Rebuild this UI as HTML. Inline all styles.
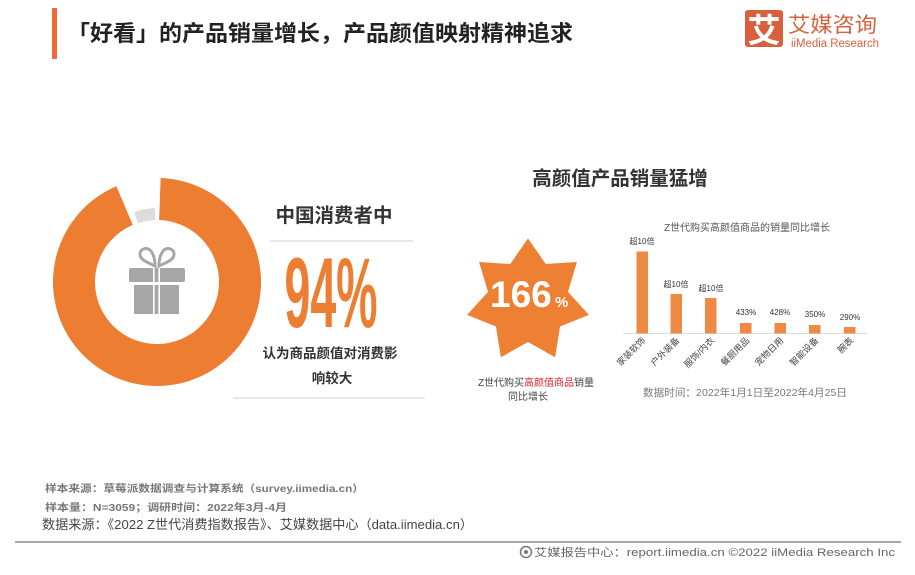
<!DOCTYPE html>
<html><head><meta charset="utf-8"><style>
html,body{margin:0;padding:0;background:#fff;}
svg{display:block;}
text{font-family:"Liberation Sans","Noto Sans CJK SC",sans-serif;}
</style></head><body>
<svg width="915" height="575" viewBox="0 0 915 575" xmlns="http://www.w3.org/2000/svg">
<rect width="915" height="575" fill="#fff"/>
<!-- header -->
<rect x="52" y="8" width="5" height="51" fill="#ef6a36"/>
<text x="67" y="41" font-size="22" font-weight="bold" fill="#222" textLength="506" lengthAdjust="spacingAndGlyphs">「好看」的产品销量增长，产品颜值映射精神追求</text>
<rect x="745" y="10" width="38" height="37" rx="3" fill="#d9603c"/>
<text x="764" y="42" font-size="33" font-weight="bold" fill="#fff" text-anchor="middle">艾</text>
<text x="788" y="32" font-size="21" fill="#d9603c" textLength="89" lengthAdjust="spacingAndGlyphs">艾媒咨询</text>
<text x="791" y="47" font-size="11.5" fill="#d9603c" textLength="88" lengthAdjust="spacingAndGlyphs">iiMedia Research</text>

<!-- donut -->
<path d="M160.63 178.06 A104 104 0 1 1 116.37 186.27 L132.78 224.93 A62 62 0 1 0 159.16 220.04 Z" fill="#ec7d31"/>
<path d="M134.2 212.0 A74 74 0 0 1 154.9 208.0 L155.2 220.0 A62 62 0 0 0 137.8 223.3 Z" fill="#dcdcdc"/>
<!-- gift -->
<g fill="none" stroke="#a6a6a6" stroke-width="3">
<path d="M155 266 C147 262 140 260 140 254 C140 249 146 247 150 250 C153 253 155 259 155 266 Z"/>
<path d="M159 266 C167 262 174 260 174 254 C174 249 168 247 164 250 C161 253 159 259 159 266 Z"/>
</g>
<rect x="129" y="268" width="56" height="14" rx="2" fill="#a6a6a6"/>
<rect x="134" y="285" width="45" height="29" fill="#a6a6a6"/>
<rect x="153" y="268" width="1.6" height="46" fill="#fff"/>
<rect x="158.4" y="268" width="1.6" height="46" fill="#fff"/>

<text x="334" y="222" font-size="19.5" font-weight="bold" fill="#333" text-anchor="middle">中国消费者中</text>
<line x1="270" y1="241" x2="413" y2="241" stroke="#dadada" stroke-width="1.2"/>
<text transform="translate(331,327) scale(0.47,1)" font-size="99" font-weight="bold" fill="#ed7d31" text-anchor="middle">94%</text>
<text x="330" y="358" font-size="13.5" font-weight="bold" fill="#333" text-anchor="middle">认为商品颜值对消费影</text>
<text x="332" y="383" font-size="13.5" font-weight="bold" fill="#333" text-anchor="middle">响较大</text>
<line x1="233" y1="398" x2="425" y2="398" stroke="#dadada" stroke-width="1.2"/>

<!-- right section -->
<text x="620" y="185" font-size="19.5" font-weight="bold" fill="#333" text-anchor="middle">高颜值产品销量猛增</text>
<polygon points="528,238.5 545.79,264.06 576.86,262.03 567.97,291.88 588.93,314.91 560.05,326.56 555.12,357.31 528,342 500.88,357.31 495.95,326.56 467.07,314.91 488.03,291.88 479.14,262.03 510.21,264.06" fill="#ee8033"/>
<text x="490" y="307" font-size="37" font-weight="bold" fill="#fff">166</text>
<text x="555" y="307" font-size="15" font-weight="bold" fill="#fff">%</text>
<text x="536" y="386" font-size="10" fill="#444" text-anchor="middle">Z世代购买<tspan fill="#e0202a">高颜值商品</tspan>销量</text>
<text x="528" y="400" font-size="10" fill="#444" text-anchor="middle">同比增长</text>

<!-- bar chart -->
<text x="747" y="231" font-size="10" fill="#555" text-anchor="middle">Z世代购买高颜值商品的销量同比增长</text>
<line x1="623" y1="333.5" x2="867" y2="333.5" stroke="#dcdcdc" stroke-width="1"/>
<g fill="#ef8a45">
<rect x="636.5" y="251.5" width="11.5" height="82"/>
<rect x="670.5" y="294" width="11.5" height="39.5"/>
<rect x="705" y="298" width="11.5" height="35.5"/>
<rect x="740" y="323" width="11.5" height="10.5"/>
<rect x="774.5" y="323" width="11.5" height="10.5"/>
<rect x="809" y="325" width="11.5" height="8.5"/>
<rect x="844" y="327" width="11.5" height="6.5"/>
</g>
<g font-size="8" fill="#333" text-anchor="middle">
<text x="642" y="244">超10倍</text>
<text x="676" y="287">超10倍</text>
<text x="711" y="291">超10倍</text>
<text x="746" y="315">433%</text>
<text x="780" y="315">428%</text>
<text x="815" y="317">350%</text>
<text x="850" y="320">290%</text>
</g>
<g font-size="9" fill="#444" text-anchor="end">
<text transform="translate(646,341) rotate(-45)">家装软饰</text>
<text transform="translate(680,341) rotate(-45)">户外装备</text>
<text transform="translate(715,341) rotate(-45)">服饰/内衣</text>
<text transform="translate(750,341) rotate(-45)">餐厨用品</text>
<text transform="translate(784,341) rotate(-45)">宠物日用</text>
<text transform="translate(819,341) rotate(-45)">智能设备</text>
<text transform="translate(854,341) rotate(-45)">腕表</text>
</g>
<text x="643" y="396" font-size="10.5" fill="#777" textLength="204" lengthAdjust="spacingAndGlyphs">数据时间：2022年1月1日至2022年4月25日</text>

<!-- footer -->
<text x="45" y="492" font-size="10" font-weight="bold" fill="#777" textLength="319" lengthAdjust="spacingAndGlyphs">样本来源：草莓派数据调查与计算系统（survey.iimedia.cn）</text>
<text x="45" y="511" font-size="10" font-weight="bold" fill="#777" textLength="242" lengthAdjust="spacingAndGlyphs">样本量：N=3059；调研时间：2022年3月-4月</text>
<text x="42" y="529" font-size="12.8" fill="#444" textLength="431" lengthAdjust="spacingAndGlyphs">数据来源：《2022 Z世代消费指数报告》、艾媒数据中心（data.iimedia.cn）</text>
<rect x="15" y="541" width="886" height="2" fill="#a8a8a8"/>
<circle cx="526" cy="552" r="5.5" fill="none" stroke="#777" stroke-width="1.5"/>
<circle cx="526" cy="552" r="2" fill="#777"/>
<text x="534" y="556" font-size="11" fill="#666" textLength="361" lengthAdjust="spacingAndGlyphs">艾媒报告中心：report.iimedia.cn  ©2022  iiMedia Research Inc</text>
</svg>
</body></html>
